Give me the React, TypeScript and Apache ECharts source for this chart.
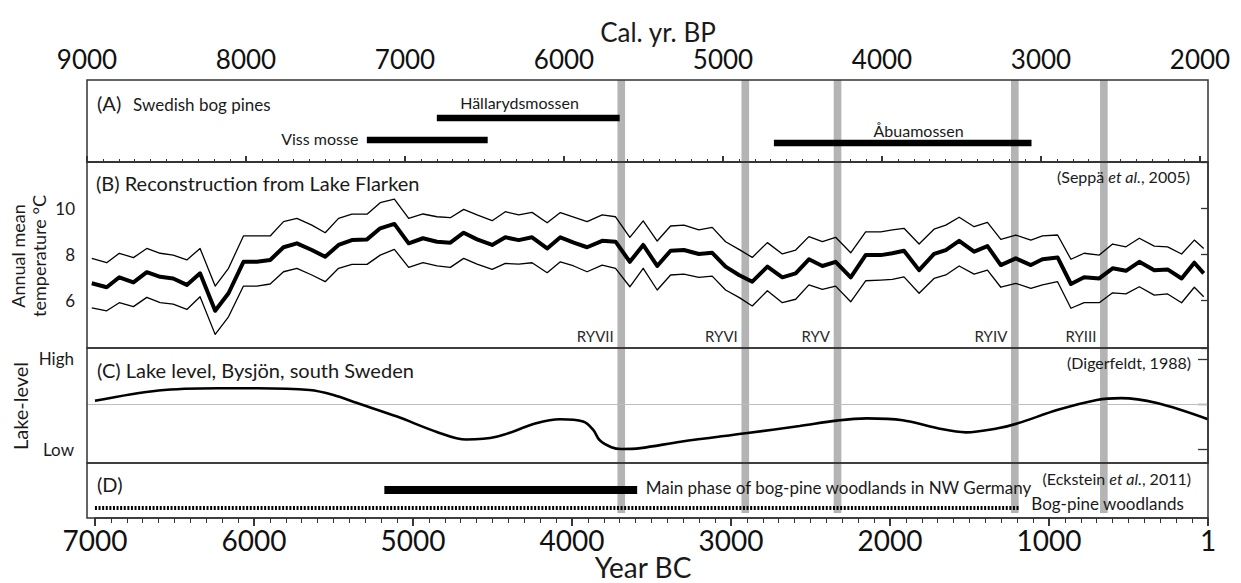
import React, { useEffect, useRef } from "react";
import * as echarts from "echarts";

const FONT = "Lato";
const INK = "#1a1a1a";

// ---- Panel A: Swedish bog pines (cal. yr BP) ----
const pineNames = ["Hällarydsmossen", "Viss mosse", "Åbuamossen"];
const pineStartBP = [6800, 7240, 4680];
const pineEndBP = [5650, 6480, 3060];
const pineRow = [2.15, 1.07, 0.93];

// ---- Panel B: Lake Flarken temperature reconstruction (years BC, °C) ----
const flarkenYearBC = [
  7020, 6926, 6847, 6758, 6674, 6590, 6508, 6422, 6339, 6244, 6160, 6066, 5982, 5898, 5814, 5730, 5636, 5552, 5468, 5384, 5289, 5206, 5117, 5027,
  4937, 4849, 4765, 4681, 4597, 4502, 4419, 4335, 4251, 4156, 4073, 3989, 3905, 3810, 3726, 3636, 3552, 3464, 3380, 3296, 3202, 3118, 3034, 2950, 2866, 2771, 2677, 2593, 2510, 2425,
  2342, 2247, 2153, 2058, 1985, 1912, 1817, 1723, 1649, 1565, 1471, 1387, 1303, 1209, 1114, 1041, 946, 862, 779, 684, 600, 516, 432, 338, 254, 166, 86, 27,
];
const flarkenMean = [
  6.75, 6.58, 7.01, 6.79, 7.23, 7.03, 6.96, 6.68, 7.18, 5.56, 6.32, 7.68, 7.68, 7.76, 8.31, 8.48, 8.19, 7.9, 8.41, 8.62, 8.65, 9.13, 9.32, 8.48,
  8.7, 8.55, 8.51, 8.94, 8.65, 8.41, 8.74, 8.62, 8.74, 8.26, 8.74, 8.51, 8.31, 8.59, 8.55, 7.68, 8.41, 7.5, 8.16, 8.19, 8.02, 8.07, 7.47, 7.11, 6.82, 7.47, 7.01, 7.18, 7.79, 7.5,
  7.68, 7.01, 7.97, 7.97, 8.05, 8.16, 7.32, 8.02, 8.19, 8.59, 8.12, 8.36, 7.54, 7.83, 7.54, 7.79, 7.87, 6.72, 7.01, 6.96, 7.4, 7.29, 7.68, 7.32, 7.35, 6.96, 7.64, 7.18,
];
const flarkenUpper = [
  7.83, 7.64, 8.05, 7.86, 8.26, 8.05, 7.97, 7.76, 8.26, 6.63, 7.4, 8.8, 8.8, 8.8, 9.42, 9.56, 9.27, 8.94, 9.56, 9.74, 9.74, 10.24, 10.39, 9.56,
  9.75, 9.63, 9.59, 9.95, 9.71, 9.46, 9.85, 9.71, 9.82, 9.37, 9.81, 9.61, 9.42, 9.71, 9.63, 8.74, 9.45, 8.58, 9.23, 9.27, 9.06, 9.17, 8.55, 8.22, 7.87, 8.51, 8.02, 8.19, 8.77, 8.55,
  8.74, 8.07, 8.98, 8.98, 9.06, 9.13, 8.45, 9.09, 9.27, 9.61, 9.2, 9.39, 8.65, 8.84, 8.62, 8.8, 8.84, 7.79, 8.05, 7.97, 8.45, 8.33, 8.7, 8.36, 8.33, 8.02, 8.62, 8.26,
];
const flarkenLower = [
  5.69, 5.56, 5.91, 5.74, 6.14, 5.91, 5.85, 5.62, 6.17, 4.54, 5.3, 6.63, 6.63, 6.72, 7.25, 7.4, 7.11, 6.82, 7.4, 7.57, 7.57, 7.97, 8.22, 7.44,
  7.64, 7.5, 7.44, 7.83, 7.58, 7.35, 7.61, 7.58, 7.64, 7.21, 7.68, 7.5, 7.25, 7.54, 7.4, 6.6, 7.4, 6.46, 7.11, 7.15, 7.01, 7.06, 6.46, 6.14, 5.77, 6.43, 5.91, 6.06, 6.68, 6.49,
  6.63, 5.95, 6.86, 6.89, 6.92, 7.03, 6.32, 6.96, 7.11, 7.5, 7.15, 7.32, 6.58, 6.75, 6.53, 6.68, 6.82, 5.67, 5.91, 5.91, 6.34, 6.29, 6.6, 6.24, 6.29, 5.91, 6.58, 6.17,
];
const tempLabelValues = [6, 8, 10];

// ---- Panel C: lake level, Bysjön (0 = Low, 2 = High) ----
const bysjonYearBC = [7000, 6600, 6225, 5975, 5650, 5500, 5350, 5100, 4850, 4665, 4475, 4225, 4075, 3930, 3865, 3827, 3752, 3690, 3570, 3317, 2908, 2568, 2335, 2146, 1920, 1700, 1523, 1322, 1196, 944, 699, 548, 321, 0];
const bysjonLevel = [1.07, 1.3, 1.35, 1.35, 1.31, 1.2, 1.02, 0.72, 0.38, 0.21, 0.27, 0.57, 0.66, 0.61, 0.42, 0.2, 0.04, 0.0, 0.02, 0.16, 0.35, 0.51, 0.63, 0.68, 0.64, 0.46, 0.37, 0.46, 0.57, 0.87, 1.09, 1.13, 1.02, 0.66];
const lakeLevelNames: Record<number, string> = { 0: "Low", 1: "", 2: "High" };

// ---- Panel D: bog-pine woodlands, NW Germany (years BC) ----
const mainPhaseBC = [5180, 3590];
const woodlandsBC = [7000, 1190];
const mainPhaseRow = 0.51;
const woodlandsRow = 0.18;
const mainPhaseText = "Main phase of bog-pine woodlands in NW Germany";
const woodlandsText = "Bog-pine woodlands";

// ---- Rapid climate events (grey bands) ----
const ryEventBC = [3690, 2910, 2330, 1215, 655];
const ryNames = ["RYVII", "RYVI", "RYV", "RYIV", "RYIII"];
const ryHalfWidthYears = 24;

// axis ticks
const bpTop = 9000;
const bpBottom = 2000;
const bcLeft = 7000;

const pad = { left: 87, right: 33 };

function stripeSeries(i: number, yMid: number, yFrom?: number, yTo?: number) {
  return {
    type: "custom",
    xAxisIndex: i,
    yAxisIndex: i,
    silent: true,
    z: 1,
    data: ryEventBC.map((v) => [v, yMid]),
    encode: { x: 0, y: 1 },
    renderItem: (params: any, api: any) => {
      const c = api.value(0);
      const cs = params.coordSys;
      const xa = api.coord([c + ryHalfWidthYears, yMid])[0];
      const xb = api.coord([c - ryHalfWidthYears, yMid])[0];
      let top = cs.y;
      let h = cs.height;
      if (yFrom !== undefined && yTo !== undefined) {
        const yb = api.coord([c, yFrom])[1];
        const yt = api.coord([c, yTo])[1];
        top = yt;
        h = yb - yt;
      }
      return {
        type: "rect",
        shape: { x: Math.min(xa, xb), y: top, width: Math.abs(xb - xa), height: h },
        style: { fill: "#b4b4b4" },
      };
    },
  };
}

function hiddenX(i: number) {
  return { type: "value", gridIndex: i, min: 0, max: 7050, inverse: true, show: false, splitLine: { show: false } };
}

function labelSeries(i: number, items: any[], fontSize: number, color = INK) {
  return {
    type: "scatter",
    xAxisIndex: i,
    yAxisIndex: i,
    symbol: "circle",
    symbolSize: 1,
    itemStyle: { color: "rgba(0,0,0,0)", opacity: 1 },
    silent: true,
    z: 6,
    label: { show: true, formatter: "{b}", fontFamily: FONT, fontSize, color, opacity: 1 },
    data: items,
  };
}

function text(t: string, x: number, y: number, size: number, align = "left", extra: any = {}) {
  return {
    type: "text",
    x,
    y,
    silent: true,
    z: 10,
    ...extra,
    style: {
      text: t,
      fontSize: size,
      fontFamily: FONT,
      fill: INK,
      align,
      verticalAlign: "middle",
      ...(extra.style || {}),
    },
  };
}

const italicRich = { i: { fontStyle: "italic", fontSize: 16, fontFamily: FONT, fill: INK } };

export default function App() {
  const ref = useRef<HTMLDivElement>(null);
  useEffect(() => {
    document.body.style.margin = "0";
    const chart = echarts.init(ref.current!, null, { renderer: "svg" });

    const pineBC = (bp: number) => bp - 1950;
    const lineBase = { type: "line", symbol: "none", silent: true, z: 3 };

    const series: any[] = [
      stripeSeries(0, 2),
      stripeSeries(1, 8),
      stripeSeries(2, 1),
      stripeSeries(3, 0.5, 0.09, 1),
      // Panel A bars
      ...pineNames.map((n, k) => ({
        ...lineBase,
        name: n,
        xAxisIndex: 0,
        yAxisIndex: 0,
        data: [
          [pineBC(pineStartBP[k]), pineRow[k]],
          [pineBC(pineEndBP[k]), pineRow[k]],
        ],
        lineStyle: { color: "#000", width: 6.5, cap: "butt" },
      })),
      labelSeries(0, [
        { name: pineNames[0], value: [pineBC(6280), pineRow[0] + 0.73], label: { position: "inside" } },
        { name: pineNames[1], value: [pineBC(pineStartBP[1]), pineRow[1] + 0.1], label: { position: "left", distance: 8 } },
        { name: pineNames[2], value: [pineBC(3770), pineRow[2] + 0.63], label: { position: "inside" } },
      ], 16),
      // Panel B
      {
        ...lineBase,
        xAxisIndex: 1,
        yAxisIndex: 1,
        data: flarkenYearBC.map((x, k) => [x, flarkenUpper[k]]),
        lineStyle: { color: "#000", width: 1.3, join: "round" },
      },
      {
        ...lineBase,
        xAxisIndex: 1,
        yAxisIndex: 1,
        data: flarkenYearBC.map((x, k) => [x, flarkenLower[k]]),
        lineStyle: { color: "#000", width: 1.3, join: "round" },
      },
      {
        ...lineBase,
        xAxisIndex: 1,
        yAxisIndex: 1,
        data: flarkenYearBC.map((x, k) => [x, flarkenMean[k]]),
        lineStyle: { color: "#000", width: 4, join: "round" },
      },
      labelSeries(
        1,
        ryEventBC.map((x, k) => ({ name: ryNames[k], value: [x, 4.47], label: { position: "left", distance: 7 } })),
        15,
        "#2a2a2a"
      ),
      // Panel C
      {
        ...lineBase,
        xAxisIndex: 2,
        yAxisIndex: 2,
        smooth: 0.35,
        data: bysjonYearBC.map((x, k) => [x, bysjonLevel[k]]),
        lineStyle: { color: "#000", width: 2.6 },
        markLine: {
          silent: true,
          symbol: "none",
          label: { show: false },
          lineStyle: { color: "#bdbdbd", width: 1.2, type: "solid" },
          data: [{ yAxis: 1 }],
          z: 2,
        },
      },
      // Panel D
      {
        ...lineBase,
        xAxisIndex: 3,
        yAxisIndex: 3,
        data: mainPhaseBC.map((x) => [x, mainPhaseRow]),
        lineStyle: { color: "#000", width: 8, cap: "butt" },
      },
      {
        ...lineBase,
        xAxisIndex: 3,
        yAxisIndex: 3,
        data: woodlandsBC.map((x) => [x, woodlandsRow]),
        lineStyle: { color: "#000", width: 4, type: [2, 1.6], cap: "butt" },
      },
      labelSeries(3, [
        { name: mainPhaseText, value: [mainPhaseBC[1], mainPhaseRow + 0.04], label: { position: "right", distance: 8 } },
        { name: woodlandsText, value: [woodlandsBC[1], woodlandsRow + 0.09], label: { position: "right", distance: 12 } },
      ], 17),
    ];

    const border = { show: true, borderColor: "#333", borderWidth: 1.5, z: 5 };

    const option: any = {
      animation: false,
      backgroundColor: "#fff",
      textStyle: { fontFamily: FONT },
      grid: [
        { ...border, left: pad.left, right: pad.right, top: 80, height: 82 },
        { ...border, left: pad.left, right: pad.right, top: 162, height: 186 },
        { ...border, left: pad.left, right: pad.right, top: 348, height: 115 },
        { ...border, left: pad.left, right: pad.right, top: 463, height: 55 },
        // axis-only grids (top: cal. yr BP, bottom: year BC)
        { show: false, left: 87, right: 41, top: 80, height: 82 },
        { show: false, left: 95, right: pad.right, top: 463, height: 55 },
      ],
      xAxis: [
        hiddenX(0),
        hiddenX(1),
        hiddenX(2),
        hiddenX(3),
        {
          type: "value",
          gridIndex: 4,
          position: "top",
          min: bpBottom,
          max: bpTop,
          inverse: true,
          interval: 1000,
          axisLine: { show: true, lineStyle: { color: "#333", width: 1.5 } },
          axisTick: { show: true, length: 6, lineStyle: { color: "#222", width: 1.8 } },
          minorTick: { show: true, splitNumber: 10, length: 3, lineStyle: { color: "#333", width: 1 } },
          splitLine: { show: false },
          axisLabel: { fontFamily: FONT, fontSize: 26, color: "#111", margin: 8, formatter: (v: number) => String(v) },
        },
        {
          type: "value",
          gridIndex: 5,
          position: "bottom",
          min: 0,
          max: bcLeft,
          inverse: true,
          interval: 1000,
          axisLine: { show: true, lineStyle: { color: "#333", width: 1.5 } },
          axisTick: { show: true, length: 8, lineStyle: { color: "#222", width: 1.8 } },
          minorTick: { show: true, splitNumber: 10, length: 5, lineStyle: { color: "#333", width: 1 } },
          splitLine: { show: false },
          axisLabel: {
            fontFamily: FONT,
            fontSize: 28,
            color: "#111",
            margin: 8,
            formatter: (v: number) => (v === 0 ? "1" : String(v)),
          },
        },
      ],
      yAxis: [
        { type: "value", gridIndex: 0, min: 0, max: 4, show: false, splitLine: { show: false } },
        {
          type: "value",
          gridIndex: 1,
          min: 3.95,
          max: 12,
          splitLine: { show: false },
          axisLine: { show: true, lineStyle: { color: "#333", width: 1.5 } },
          axisTick: { show: true, length: 7, customValues: [3.95, 6, 8, 10, 12], lineStyle: { color: "#333", width: 1.3 } },
          axisLabel: { customValues: tempLabelValues, fontFamily: FONT, fontSize: 17, color: INK, margin: 12 },
        },
        {
          type: "value",
          gridIndex: 2,
          min: -0.311,
          max: 2.244,
          splitLine: { show: false },
          axisLine: { show: true, lineStyle: { color: "#333", width: 1.5 } },
          axisTick: { show: true, length: 10, customValues: [0, 1, 2], lineStyle: { color: "#333", width: 1.3 } },
          axisLabel: {
            customValues: [0, 2],
            fontFamily: FONT,
            fontSize: 17,
            color: INK,
            margin: 13,
            formatter: (v: number) => lakeLevelNames[Math.round(v)] ?? "",
          },
        },
        { type: "value", gridIndex: 3, min: 0, max: 1, show: false, splitLine: { show: false } },
        { type: "value", gridIndex: 4, min: 0, max: 1, show: false, splitLine: { show: false } },
        { type: "value", gridIndex: 5, min: 0, max: 1, show: false, splitLine: { show: false } },
      ],
      graphic: [
        text("Cal. yr. BP", 658, 32, 26, "center"),
        text("Year BC", 643, 567, 28, "center"),
        text("(A)", 97, 103, 20),
        text("Swedish bog pines", 133, 104, 17),
        text("(B) Reconstruction from Lake Flarken", 96, 183, 20),
        text("(Seppä {i|et al.}, 2005)", 1190, 176, 16, "right", { style: { rich: italicRich } }),
        text("(C) Lake level, Bysjön, south Sweden", 97, 370, 20),
        text("(Digerfeldt, 1988)", 1191, 362, 16, "right"),
        text("(D)", 97, 484, 20),
        text("(Eckstein {i|et al.}, 2011)", 1191, 478, 16, "right", { style: { rich: italicRich } }),
        text("Annual mean\ntemperature °C", 28, 256, 18, "center", { rotation: Math.PI / 2, style: { lineHeight: 21 } }),
        text("Lake-level", 20, 406, 20, "center", { rotation: Math.PI / 2 }),
      ],
      series,
    };

    chart.setOption(option);
    return () => chart.dispose();
  }, []);
  return <div ref={ref} style={{ width: 1241, height: 583 }} />;
}
